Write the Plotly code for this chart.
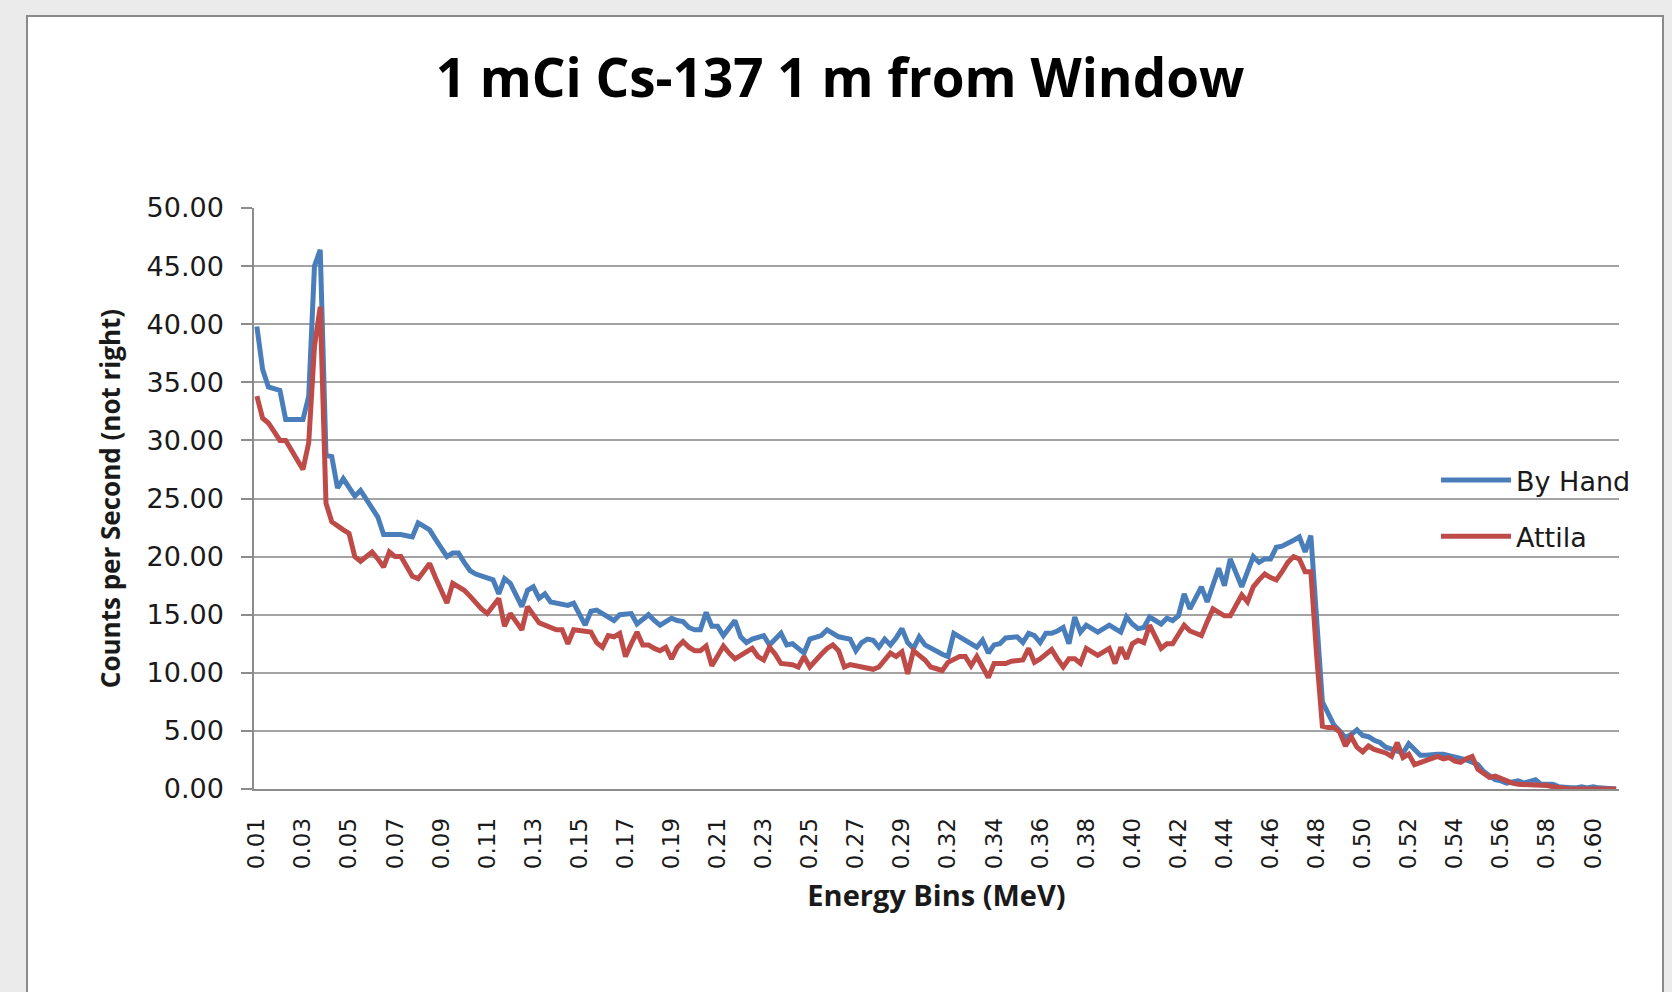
import plotly.graph_objects as go

# ---- data ----
series_names = ["By Hand", "Attila"]

tick_labels = ["0.01", "0.03", "0.05", "0.07", "0.09", "0.11", "0.13", "0.15", "0.17", "0.19",
               "0.21", "0.23", "0.25", "0.27", "0.29", "0.32", "0.34", "0.36", "0.38", "0.40",
               "0.42", "0.44", "0.46", "0.48", "0.50", "0.52", "0.54", "0.56", "0.58", "0.60"]

by_hand = [
    39.8, 36.1, 34.6, 34.4, 34.3, 31.8, 31.8, 31.8, 31.8, 33.8,
    45.0, 46.4, 28.7, 28.6, 25.9, 26.7, 26.0, 25.2, 25.7, 24.9,
    24.2, 23.4, 21.9, 21.9, 22.0, 21.9, 21.8, 21.7, 22.9, 22.6,
    22.3, 21.5, 20.8, 20.0, 20.3, 20.3, 19.5, 18.8, 18.5, 18.3,
    18.2, 18.0, 16.8, 18.1, 17.7, 16.7, 15.7, 17.1, 17.4, 16.4,
    16.8, 16.1, 16.0, 15.9, 15.8, 16.0, 15.0, 14.1, 15.3, 15.4,
    15.1, 14.8, 14.5, 15.0, 15.0, 15.1, 14.2, 14.6, 15.0, 14.5,
    14.1, 14.4, 14.7, 14.5, 14.4, 13.9, 13.7, 13.7, 15.2, 14.0,
    14.0, 13.2, 13.8, 14.5, 13.1, 12.6, 12.9, 13.0, 13.2, 12.4,
    12.9, 13.4, 12.4, 12.5, 12.1, 11.7, 12.9, 13.0, 13.2, 13.7,
    13.4, 13.1, 13.0, 12.9, 11.9, 12.6, 12.9, 12.8, 12.2, 12.9,
    12.4, 13.0, 13.8, 12.6, 12.1, 13.1, 12.4, 12.1, 11.8, 11.6,
    11.4, 13.4, 13.1, 12.8, 12.4, 12.2, 12.8, 11.7, 12.4, 12.5,
    13.0, 13.1, 13.1, 12.6, 13.4, 13.2, 12.6, 13.4, 13.4, 13.6,
    13.9, 12.5, 14.8, 13.5, 14.1, 13.8, 13.5, 13.8, 14.1, 13.8,
    13.5, 14.8, 14.2, 13.8, 13.9, 14.8, 14.5, 14.2, 14.7, 14.5,
    14.9, 16.8, 15.5, 16.5, 17.4, 16.1, 17.5, 19.0, 17.5, 19.8,
    18.6, 17.4, 18.7, 20.0, 19.5, 19.8, 19.8, 20.8, 20.9, 21.1,
    21.4, 21.7, 20.4, 21.8, 15.0, 7.5, 6.5, 5.5, 5.0, 4.4,
    4.7, 5.1, 4.6, 4.5, 4.2, 4.0, 3.6, 3.4, 3.3, 3.1,
    3.9, 3.4, 2.9, 2.9, 3.0, 3.0, 3.0, 2.9, 2.8, 2.7,
    2.5, 2.3, 2.1, 1.5, 1.1, 0.8, 0.7, 0.5, 0.6, 0.7,
    0.5, 0.6, 0.8, 0.4, 0.4, 0.4, 0.2, 0.1, 0.1, 0.1,
    0.2, 0.1, 0.2, 0.1, 0.05, 0.0, 0.0,
]

attila = [
    33.8, 31.9, 31.5, 30.8, 30.0, 30.0, 29.2, 28.5, 27.5, 29.8,
    38.1, 41.5, 24.6, 23.0, 22.6, 22.3, 22.0, 20.0, 19.6, 20.0,
    20.4, 19.8, 19.1, 20.4, 20.0, 20.0, 19.2, 18.3, 18.1, 18.7,
    19.4, 18.2, 17.0, 16.0, 17.7, 17.4, 17.1, 16.6, 16.0, 15.5,
    15.1, 15.7, 16.4, 14.0, 15.1, 14.4, 13.7, 15.7, 15.0, 14.3,
    14.1, 13.9, 13.7, 13.7, 12.5, 13.7, 13.6, 13.6, 13.5, 12.6,
    12.2, 13.2, 13.1, 13.4, 11.4, 12.5, 13.5, 12.4, 12.4, 12.1,
    11.9, 12.2, 11.2, 12.2, 12.7, 12.2, 11.9, 11.9, 12.3, 10.6,
    11.5, 12.3, 11.7, 11.2, 11.5, 11.8, 12.1, 11.4, 11.1, 12.2,
    11.6, 10.8, 10.8, 10.7, 10.5, 11.4, 10.5, 11.1, 11.6, 12.1,
    12.4, 11.9, 10.5, 10.7, 10.6, 10.6, 10.4, 10.3, 10.5, 11.1,
    11.7, 11.4, 11.8, 9.9, 11.9, 11.5, 11.1, 10.5, 10.4, 10.2,
    10.9, 11.2, 11.4, 11.4, 10.6, 11.4, 10.5, 9.6, 10.8, 10.8,
    10.8, 11.0, 11.1, 11.1, 12.1, 10.9, 11.2, 11.6, 12.0, 11.2,
    10.5, 11.2, 11.2, 10.8, 12.1, 11.8, 11.5, 11.8, 12.1, 10.8,
    12.2, 11.2, 12.5, 12.8, 12.6, 14.1, 13.0, 12.1, 12.5, 12.5,
    13.3, 14.1, 13.6, 13.4, 13.2, 14.4, 15.5, 15.2, 14.9, 14.9,
    15.8, 16.7, 16.1, 17.4, 18.0, 18.5, 18.2, 18.0, 18.7, 19.5,
    20.0, 19.8, 18.7, 18.7, 11.5, 5.4, 5.3, 5.3, 4.9, 3.7,
    4.5, 3.6, 3.2, 3.7, 3.4, 3.3, 3.1, 2.8, 4.0, 2.7,
    3.0, 2.1, 2.3, 2.4, 2.6, 2.8, 2.6, 2.7, 2.4, 2.3,
    2.6, 2.8, 1.7, 1.3, 1.0, 1.1, 0.9, 0.6, 0.5, 0.4,
    0.4, 0.3, 0.3, 0.3, 0.3, 0.2, 0.1, 0.0, 0.0, 0.0,
    0.0, 0.0, 0.0, 0.0, 0.0, 0.0, 0.0,
]

y_tick_values = [0, 5, 10, 15, 20, 25, 30, 35, 40, 45, 50]

# ---- layout geometry (pixels) ----
W, H = 1672, 992
ML, MR, MT, MB = 254, 53, 208, 203
PW, PH = W - ML - MR, H - MT - MB

def px_x(p):
    return (p - ML) / PW

def px_y(p):
    return (H - MB - p) / PH

cat_index = list(range(len(by_hand)))
label_step = 8
tick_pos = [k * label_step for k in range(len(tick_labels))]

fig = go.Figure()
fig.add_trace(go.Scatter(x=cat_index, y=by_hand, mode="lines", name=series_names[0],
                         line=dict(color="#4a7ebb", width=5), legendgroup="a"))
fig.add_trace(go.Scatter(x=cat_index, y=attila, mode="lines", name=series_names[1],
                         line=dict(color="#be4b48", width=5), legendgroup="b"))

grid_col = "#a3a3a3"
axis_col = "#8c8c8c"
txt_col = "#1a1a1a"

fig.update_layout(
    width=W, height=H,
    margin=dict(l=ML, r=MR, t=MT, b=MB, autoexpand=False),
    paper_bgcolor="#ebebeb",
    plot_bgcolor="white",
    title=dict(text="<b>1 mCi Cs-137 1 m from Window</b>",
               font=dict(family="Open Sans", size=53, color="black"),
               x=840 / W, xanchor="center", y=1 - 78 / H, yanchor="middle"),
    showlegend=True,
    legend=dict(x=px_x(1436), xanchor="left", y=px_y(456), yanchor="top",
                bgcolor="rgba(0,0,0,0)", font=dict(family="DejaVu Sans", size=27, color=txt_col),
                tracegroupgap=18, itemwidth=70),
    xaxis=dict(range=[-0.5, len(by_hand) - 0.5], tickmode="array", tickvals=tick_pos,
               ticktext=tick_labels, tickangle=-90, showgrid=False, zeroline=False,
               showline=True, linecolor=axis_col, linewidth=1.5, ticks="",
               tickfont=dict(family="DejaVu Sans", size=23, color=txt_col),
               ticklabelstandoff=18,
               title=dict(text="<b>Energy Bins (MeV)</b>", standoff=18,
                          font=dict(family="Open Sans", size=29, color=txt_col))),
    yaxis=dict(range=[0, 50], tickmode="array", tickvals=y_tick_values,
               ticktext=[f"{v:.2f}" for v in y_tick_values],
               showgrid=True, gridcolor=grid_col, gridwidth=1.5, zeroline=False,
               showline=True, linecolor=axis_col, linewidth=1.5,
               ticks="outside", ticklen=11, tickcolor=axis_col, tickwidth=1.5,
               tickfont=dict(family="DejaVu Sans", size=27, color=txt_col),
               ticklabelstandoff=12,
               title=dict(text="<b>Counts per Second (not right)</b>", standoff=18,
                          font=dict(family="Open Sans", size=26, color=txt_col))),
    shapes=[dict(type="rect", xref="paper", yref="paper", layer="below",
                 x0=px_x(27), x1=px_x(1663), y0=px_y(1010), y1=px_y(16),
                 fillcolor="white", line=dict(color="#8a8a8a", width=2))],
)

fig.write_html("out.html", config={"displayModeBar": False},
               post_script="document.body.style.margin='0';")
